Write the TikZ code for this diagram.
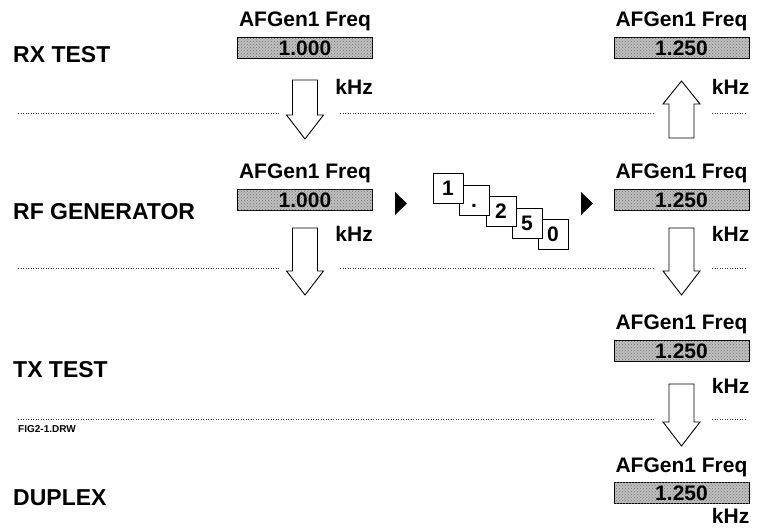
\documentclass[tikz,border=0pt]{standalone}
\usepackage{fontspec}
\setmainfont{Liberation Sans}
\usetikzlibrary{positioning,patterns}
\newcommand{\bigfont}{\fontsize{21}{24}\selectfont\bfseries}
\newcommand{\lblfont}{\fontsize{23}{26}\selectfont\bfseries}
\newcommand{\drwfont}{\fontsize{10}{12}\selectfont\bfseries}
\tikzset{
  rowlbl/.style={font=\lblfont, anchor=base west, inner sep=0pt},
  ttl/.style   ={font=\bigfont, anchor=base, inner sep=0pt},
  valbox/.style={draw=black, line width=0.9pt, fill=black!25, minimum width=135pt,
                 minimum height=21pt, inner sep=0pt, font=\bigfont,
                 postaction={pattern=crosshatch dots, pattern color=black!55}},
  unit/.style  ={font=\bigfont, anchor=base east, inner sep=0pt},
  digbox/.style={draw=black, line width=0.9pt, fill=white, minimum size=30pt, inner sep=0pt,
                 font=\bigfont, text height=15pt, text depth=0pt},
  blk/.style   ={draw=black, line width=0.9pt, fill=white, line join=miter},
  sep/.style   ={line width=0.7pt, dash pattern=on 1pt off 1.5pt, black!80},
  tri/.style   ={fill=black},
}
% hollow block arrows: x, top/bottom, tip
\newcommand{\blkdown}[3]{\draw[blk] (#1-12.5,#2) -- (#1+12.5,#2) -- (#1+12.5,#3-24) -- (#1+18.5,#3-24)
  -- (#1,#3) -- (#1-18.5,#3-24) -- (#1-12.5,#3-24) -- cycle;}
\newcommand{\blkup}[3]{\draw[blk] (#1-12.5,#2) -- (#1+12.5,#2) -- (#1+12.5,#3+23) -- (#1+18.5,#3+23)
  -- (#1,#3) -- (#1-18.5,#3+23) -- (#1-12.5,#3+23) -- cycle;}

\begin{document}
\begin{tikzpicture}[x=1pt, y=-1pt]
  \useasboundingbox (0,0) rectangle (759,529);
  % separators
  \draw[sep] (18,113) -- (280,113);  \draw[sep] (340,113) -- (655,113); \draw[sep] (712,113) -- (746,113);
  \draw[sep] (18,268) -- (280,268);  \draw[sep] (340,268) -- (655,268); \draw[sep] (712,268) -- (746,268);
  \draw[sep] (18,419) -- (655,419);  \draw[sep] (712,419) -- (746,419);
  \node[font=\drwfont, anchor=base west, inner sep=0pt] (drw) at (18,432) {FIG2-1.DRW};
  % row labels
  \node[rowlbl] (rx)  at (13,63)  {RX TEST};
  \node[rowlbl] (rf)  at (13,219) {RF GENERATOR};
  \node[rowlbl] (tx)  at (13,377) {TX TEST};
  \node[rowlbl] (dup) at (13,505) {DUPLEX};
  % RX TEST
  \node[valbox] (b11) at (305,48) {1.000\hspace{6pt}};
  \node[ttl] (t11) at ([yshift=11pt]b11.north) {AFGen1 Freq};
  \node[unit] (k11) at ([yshift=-36pt]b11.south east) {kHz};
  \node[valbox] (b13) at (681.5,48) {1.250\hspace{6pt}};
  \node[ttl] (t13) at ([yshift=11pt]b13.north) {AFGen1 Freq};
  \node[unit] (k13) at ([yshift=-36pt]b13.south east) {kHz};
  \blkdown{305}{80}{139}
  \blkup{681.5}{138}{81}
  % RF GENERATOR
  \node[valbox] (b21) at (305,200) {1.000\hspace{6pt}};
  \node[ttl] (t21) at ([yshift=11pt]b21.north) {AFGen1 Freq};
  \node[unit] (k21) at ([yshift=-31pt]b21.south east) {kHz};
  \node[valbox] (b23) at (681.5,200) {1.250\hspace{6pt}};
  \node[ttl] (t23) at ([yshift=11pt]b23.north) {AFGen1 Freq};
  \node[unit] (k23) at ([yshift=-31pt]b23.south east) {kHz};
  \fill[tri] (395,192) -- (407,203.5) -- (395,215) -- cycle;
  \fill[tri] (581,192) -- (593,203.5) -- (581,215) -- cycle;
  \node[digbox] (d5) at (553,234) {0};
  \node[digbox] (d4) at (527,223) {5};
  \node[digbox] (d3) at (501,211) {2};
  \node[digbox] (d2) at (474,200) {.};
  \node[digbox] (d1) at (448,188) {1};
  \blkdown{305}{228}{295}
  \blkdown{681.5}{228}{295}
  % TX TEST
  \node[valbox] (b33) at (681.5,351) {1.250\hspace{6pt}};
  \node[ttl] (t33) at ([yshift=11pt]b33.north) {AFGen1 Freq};
  \node[unit] (k33) at ([yshift=-32pt]b33.south east) {kHz};
  \blkdown{681.5}{384}{446}
  % DUPLEX
  \node[valbox] (b43) at (681.5,493) {1.250\hspace{6pt}};
  \node[ttl] (t43) at ([yshift=10pt]b43.north) {AFGen1 Freq};
  \node[unit] (k43) at ([yshift=-20pt]b43.south east) {kHz};
\end{tikzpicture}
\end{document}
